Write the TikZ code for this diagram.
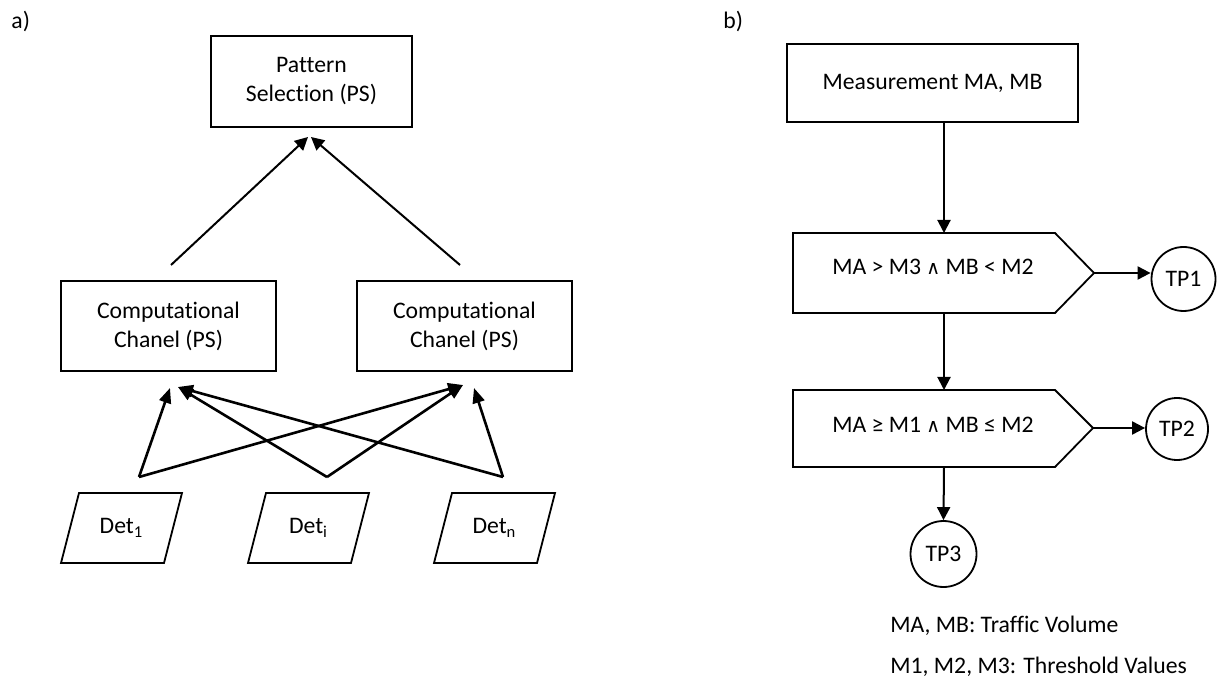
\documentclass[tikz,border=0pt]{standalone}
\usepackage{fontspec}
\setmainfont{Carlito}[Ligatures=NoCommon]
\newfontfamily\opfont{DejaVu Sans}
\newcommand{\logand}{{\opfont\fontsize{9.5}{11}\selectfont ∧}}
\usetikzlibrary{arrows.meta}
\begin{document}
\begin{tikzpicture}[x=0.5pt,y=-0.5pt,
  font=\fontsize{11.85}{14.5}\selectfont,
  box/.style={draw, line width=0.9pt, inner sep=0pt, align=center},
  outline/.style={draw, line width=0.9pt, line join=miter},
  link/.style={line width=1pt, -{Triangle[length=6.5pt,width=6.5pt]}},
  fan/.style={line width=1.3pt, -{Triangle[length=7.5pt,width=6pt]}},
  endcircle/.style={draw, circle, line width=0.9pt, inner sep=0pt}]
\useasboundingbox (0,0) rectangle (1220,678);

% panel labels
\node[anchor=base west, inner sep=0pt] (la) at (11,29) {a)};
\node[anchor=base west, inner sep=0pt] (lb) at (723,29) {b)};

% ---------- a) pattern selection tree ----------
\node[box, minimum width=100.5pt, minimum height=45.5pt] (ps) at (311.5,81.5) {Pattern\\Selection (PS)};
\node[box, minimum width=107.5pt, minimum height=45pt] (ccl) at (168.5,326) {Computational\\Chanel (PS)};
\node[box, minimum width=107.5pt, minimum height=45pt] (ccr) at (464.5,326) {Computational\\Chanel (PS)};

% channel outputs to pattern selection
\coordinate (outl) at (171,265);
\coordinate (outr) at (460,265);
\coordinate (inpsl) at (308,137);
\coordinate (inpsr) at (311,137);
\draw[link] (outl) -- (inpsl);
\draw[link] (outr) -- (inpsr);

% detectors
\foreach \name/\cx/\lab in {d1/121.5/{Det\textsubscript{1}}, di/308.5/{Det\textsubscript{i}}, dn/494.5/{Det\textsubscript{n}}}{
  \draw[outline] (\cx-42.5,493) -- (\cx+60.5,493) -- (\cx+42.5,563) -- (\cx-60.5,563) -- cycle;
  \node[inner sep=0pt] (\name) at (\cx,528) {\lab};
}

% detector outputs and channel inputs
\coordinate (s1) at (139,477);
\coordinate (s2) at (327,477);
\coordinate (s3) at (503,477);
\coordinate (tl1) at (170,388);
\coordinate (tl2) at (178,387);
\coordinate (tr1) at (463,385);
\coordinate (tr2) at (474,388);
\draw[fan] (s1) -- (tl1);
\draw[fan] (s1) -- (tr1);
\draw[fan] (s2) -- (tl2);
\draw[fan] (s2) -- (tr1);
\draw[fan] (s3) -- (tl2);
\draw[fan] (s3) -- (tr2);

% ---------- b) decision flow ----------
\node[box, minimum width=145.5pt, minimum height=39pt] (meas) at (932.5,83) {Measurement MA, MB};

% first test
\draw[outline] (793,233) -- (1055,233) -- (1094,273) -- (1055,313) -- (793,313) -- cycle;
\node[anchor=base, inner sep=0pt] (t1) at (933,275) {MA > M3 \logand{} MB < M2};
\coordinate (t1top) at (944,233);
\coordinate (t1tip) at (1094,273);
\coordinate (t1bot) at (944,313);

% second test
\draw[outline] (793,390) -- (1055,390) -- (1093,428) -- (1055,467) -- (793,467) -- cycle;
\node[anchor=base, inner sep=0pt] (t2) at (933,432) {MA ≥ M1 \logand{} MB ≤ M2};
\coordinate (t2top) at (944,390);
\coordinate (t2tip) at (1093,428);
\coordinate (t2bot) at (944,467);

% outcomes
\node[endcircle, minimum size=32pt] (tp1) at (1183.5,279) {TP1};
\node[endcircle, minimum size=31pt] (tp2) at (1177,429) {TP2};
\node[endcircle, minimum size=33pt] (tp3) at (943.5,554) {TP3};

\draw[link] (meas.south -| t1top) -- (t1top);
\draw[link] (t1tip) -- (t1tip -| tp1.west);
\draw[link] (t1bot) -- (t2top);
\draw[link] (t2tip) -- (t2tip -| tp2.west);
\draw[link] (t2bot) -- (tp3.north);

% legend
\node[anchor=base west, inner sep=0pt] (leg1) at (890,632) {MA, MB: Traffic Volume};
\node[anchor=base west, inner sep=0pt] (leg2) at (890,673) {M1, M2, M3: Threshold Values};
\end{tikzpicture}
\end{document}
